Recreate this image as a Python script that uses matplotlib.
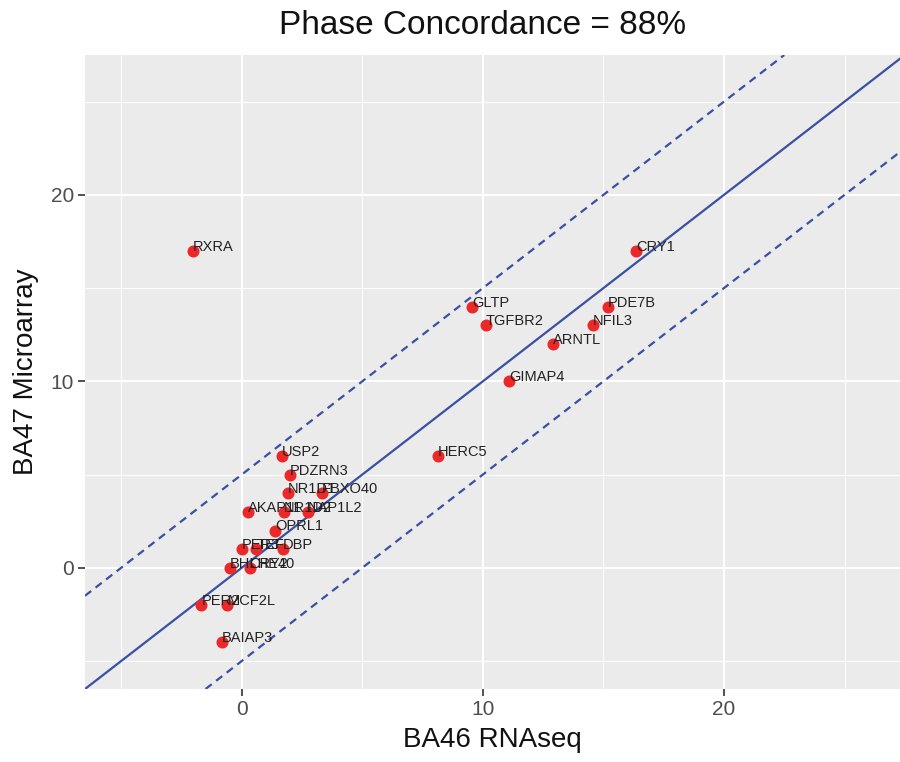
import matplotlib
matplotlib.use("Agg")
import matplotlib.pyplot as plt
from matplotlib.ticker import MultipleLocator

plt.rcParams['font.family'] = ['Liberation Sans', 'DejaVu Sans']

genes = ["RXRA", "CRY1", "GLTP", "TGFBR2", "PDE7B", "NFIL3", "ARNTL", "GIMAP4",
         "HERC5", "USP2", "PDZRN3", "NR1D1", "FBXO40", "AKAP11", "NR1D2", "NAP1L2",
         "OPRL1", "PER3", "TEF", "DBP", "BHLHE40", "CRY2", "PER2", "MCF2L", "BAIAP3"]
rnaseq = [-2.03, 16.35, 9.54, 10.13, 15.2, 14.56, 12.92, 11.09,
          8.15, 1.65, 1.99, 1.92, 3.31, 0.26, 1.74, 2.75,
          1.37, 0.01, 0.61, 1.71, -0.5, 0.33, -1.67, -0.6, -0.82]
microarray = [17, 17, 14, 13, 14, 13, 12, 10,
              6, 6, 5, 4, 4, 3, 3, 3,
              2, 1, 1, 1, 0, 0, -2, -2, -4]
concordance = 88
band = 5

fig = plt.figure(figsize=(9, 7.62), dpi=100)
ax = fig.add_axes([85 / 900, 1 - 689 / 762, 815 / 900, 634 / 762])
ax.set_facecolor("#EBEBEB")
for s in ax.spines.values():
    s.set_visible(False)

ax.xaxis.set_major_locator(MultipleLocator(10))
ax.xaxis.set_minor_locator(MultipleLocator(5))
ax.yaxis.set_major_locator(MultipleLocator(10))
ax.yaxis.set_minor_locator(MultipleLocator(5))
ax.grid(which="major", color="white", lw=1.5)
ax.grid(which="minor", color="white", lw=0.7)
ax.set_axisbelow(True)
ax.tick_params(which="major", length=5, width=1.2, color="#333333",
               labelsize=15, labelcolor="#4D4D4D", pad=3)
ax.tick_params(which="minor", length=0)

line_col = "#3A50A3"
ax.axline((0, 0), slope=1, color=line_col, lw=1.6)
ax.axline((0, band), slope=1, color=line_col, lw=1.6, ls=(0, (3.5, 2.5)))
ax.axline((0, -band), slope=1, color=line_col, lw=1.6, ls=(0, (3.5, 2.5)))

ax.scatter(rnaseq, microarray, s=75, color="#EC2828", zorder=3, linewidths=0)
for g, x, y in zip(genes, rnaseq, microarray):
    ax.text(x, y, g, fontsize=10.5, color="#222222", ha="left", va="baseline", zorder=4)

ax.set_xlim(-6.5, 27.3)
ax.set_ylim(-6.5, 27.5)
ax.set_xlabel("BA46 RNAseq", fontsize=20, color="#111111", labelpad=6)
ax.set_ylabel("BA47 Microarray", fontsize=20, color="#111111", labelpad=8)
fig.text(483 / 900, 1 - 25 / 762, "Phase Concordance = %d%%" % concordance,
         fontsize=24, ha="center", va="center", color="#111111")

fig.savefig("out.png", dpi=100)
